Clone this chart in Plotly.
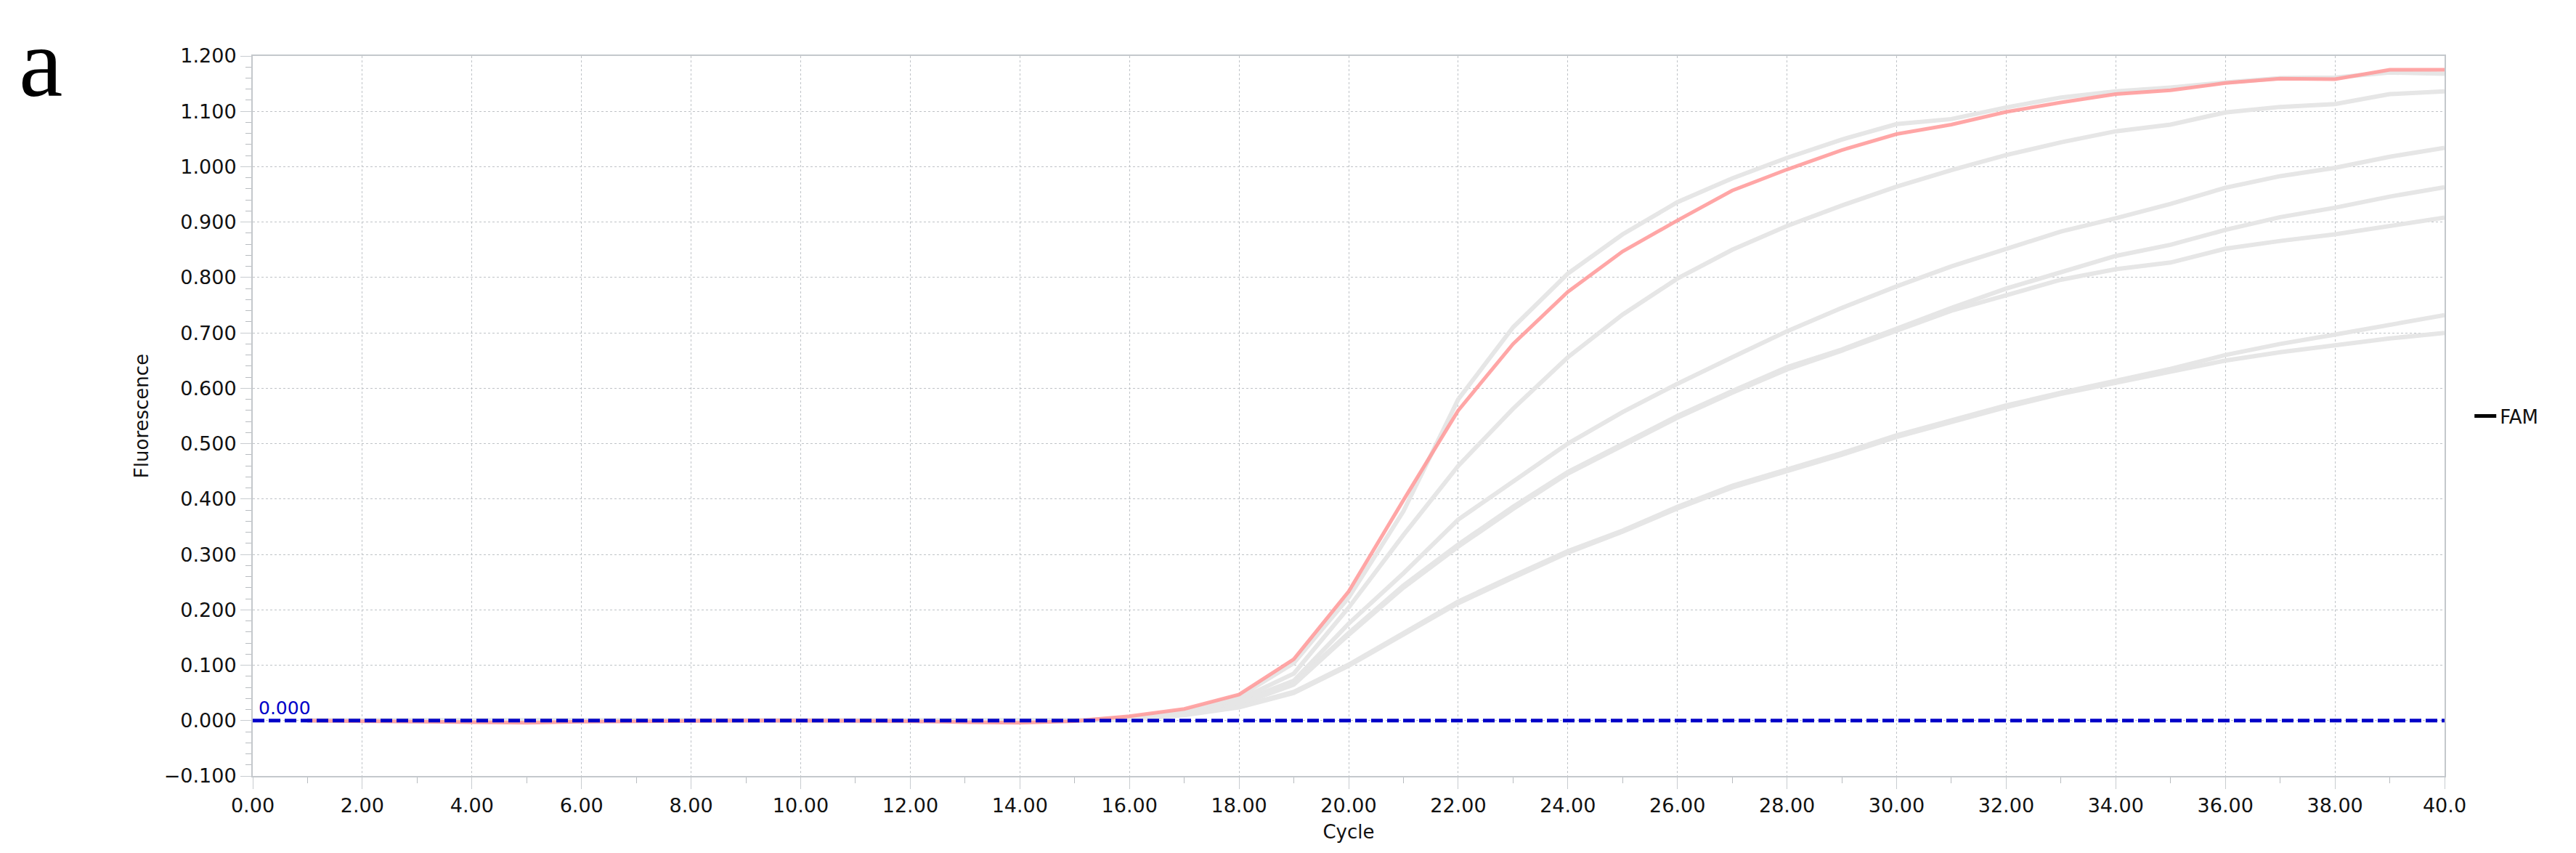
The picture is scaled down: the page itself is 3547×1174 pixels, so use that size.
import plotly.graph_objects as go

# amplification curves, one value per cycle
CYCLES = [1, 2, 3, 4, 5, 6, 7, 8, 9, 10, 11, 12, 13, 14, 15, 16, 17, 18, 19, 20,
          21, 22, 23, 24, 25, 26, 27, 28, 29, 30, 31, 32, 33, 34, 35, 36, 37, 38, 39, 40]

FAM_HIGHLIGHT = [0.000, -0.001, -0.002, -0.004, -0.004, -0.002, -0.001, 0.000, 0.000, 0.000,
                 0.000, -0.001, -0.003, -0.004, -0.001, 0.008, 0.021, 0.047, 0.111, 0.233,
                 0.398, 0.560, 0.680, 0.774, 0.847, 0.903, 0.957, 0.995, 1.030, 1.059,
                 1.076, 1.099, 1.116, 1.131, 1.138, 1.151, 1.159, 1.158, 1.175, 1.175]

FAM_A = [0.000, 0.000, -0.001, -0.002, -0.002, -0.001, 0.000, 0.000, 0.000, 0.000,
         0.000, 0.000, -0.001, -0.002, 0.000, 0.005, 0.017, 0.043, 0.104, 0.222,
         0.378, 0.580, 0.710, 0.807, 0.878, 0.936, 0.979, 1.016, 1.049, 1.077,
         1.086, 1.107, 1.125, 1.136, 1.143, 1.152, 1.160, 1.161, 1.170, 1.168]

FAM_B = [0.000, 0.000, 0.000, -0.001, -0.001, 0.000, 0.000, 0.000, 0.000, 0.000,
         0.000, 0.000, 0.000, -0.001, 0.000, 0.004, 0.015, 0.038, 0.085, 0.204,
         0.335, 0.460, 0.563, 0.656, 0.733, 0.798, 0.850, 0.893, 0.930, 0.964,
         0.994, 1.021, 1.044, 1.064, 1.076, 1.098, 1.108, 1.113, 1.131, 1.136]

FAM_C = [0.000, 0.000, 0.000, -0.001, -0.001, 0.000, 0.000, 0.000, 0.000, 0.000,
         0.000, 0.000, 0.000, -0.001, 0.000, 0.004, 0.014, 0.034, 0.072, 0.175,
         0.266, 0.363, 0.432, 0.500, 0.557, 0.608, 0.656, 0.703, 0.745, 0.784,
         0.820, 0.852, 0.883, 0.907, 0.933, 0.962, 0.983, 0.998, 1.018, 1.034]

FAM_D = [0.000, 0.000, 0.000, 0.000, -0.001, 0.000, 0.000, 0.000, 0.000, 0.000,
         0.000, 0.000, 0.000, 0.000, 0.000, 0.003, 0.013, 0.030, 0.067, 0.158,
         0.244, 0.318, 0.386, 0.449, 0.500, 0.550, 0.595, 0.638, 0.670, 0.708,
         0.745, 0.780, 0.810, 0.839, 0.859, 0.886, 0.909, 0.926, 0.946, 0.963]

FAM_E = [0.000, 0.000, 0.000, 0.000, -0.001, 0.000, 0.000, 0.000, 0.000, 0.000,
         0.000, 0.000, 0.000, 0.000, 0.000, 0.003, 0.012, 0.029, 0.065, 0.155,
         0.240, 0.314, 0.382, 0.446, 0.497, 0.547, 0.592, 0.634, 0.668, 0.705,
         0.740, 0.768, 0.796, 0.815, 0.827, 0.852, 0.866, 0.878, 0.893, 0.908]

FAM_F = [0.000, 0.000, 0.000, 0.000, 0.000, 0.000, 0.000, 0.000, 0.000, 0.000,
         0.000, 0.000, 0.000, 0.000, 0.000, 0.003, 0.011, 0.025, 0.052, 0.101,
         0.158, 0.215, 0.261, 0.306, 0.343, 0.386, 0.424, 0.453, 0.483, 0.515,
         0.543, 0.569, 0.592, 0.613, 0.635, 0.660, 0.680, 0.697, 0.714, 0.732]

FAM_G = [0.000, 0.000, 0.000, 0.000, 0.000, 0.000, 0.000, 0.000, 0.000, 0.000,
         0.000, 0.000, 0.000, 0.000, 0.000, 0.002, 0.010, 0.024, 0.050, 0.099,
         0.155, 0.212, 0.258, 0.303, 0.341, 0.383, 0.421, 0.450, 0.480, 0.512,
         0.540, 0.566, 0.590, 0.610, 0.630, 0.650, 0.665, 0.678, 0.690, 0.700]

GRAY_CURVES = [FAM_A, FAM_B, FAM_C, FAM_D, FAM_E, FAM_F, FAM_G]

THRESHOLD = 0.0
X_RANGE = [0, 40]

X_TICKS = [0, 2, 4, 6, 8, 10, 12, 14, 16, 18, 20, 22, 24, 26, 28, 30, 32, 34, 36, 38, 40]
X_TICKTEXT = ["0.00", "2.00", "4.00", "6.00", "8.00", "10.00", "12.00", "14.00", "16.00",
              "18.00", "20.00", "22.00", "24.00", "26.00", "28.00", "30.00", "32.00",
              "34.00", "36.00", "38.00", "40.0"]

W, H = 3547, 1174
ML, MR, MT, MB = 340, 189, 69, 114
PW, PH = W - ML - MR, H - MT - MB
FONT = "DejaVu Sans"

fig = go.Figure()

for ys in GRAY_CURVES:
    fig.add_trace(go.Scatter(
        x=CYCLES, y=ys, mode="lines",
        line=dict(color="#e6e6e6", width=6),
        showlegend=False, hoverinfo="skip",
    ))

fig.add_trace(go.Scatter(
    x=CYCLES, y=FAM_HIGHLIGHT, mode="lines",
    line=dict(color="rgba(255,150,150,0.85)", width=5),
    showlegend=False,
))

# threshold line
fig.add_trace(go.Scatter(
    x=X_RANGE, y=[THRESHOLD, THRESHOLD], mode="lines",
    line=dict(color="#0000c8", width=5, dash="16px,6px"),
    showlegend=False, hoverinfo="skip",
))

# legend entry
fig.add_trace(go.Scatter(
    x=[None], y=[None], mode="lines", name="FAM",
    line=dict(color="black", width=5),
))

fig.add_annotation(
    x=0, y=THRESHOLD, xref="x", yref="y", text="0.000",
    xanchor="left", yanchor="bottom", xshift=6, yshift=1,
    showarrow=False, font=dict(family=FONT, size=25, color="#0000c8"),
)

# panel letter, kept fully inside the page
fig.add_annotation(
    x=(16 - ML) / PW, y=(H - MB - 1) / PH,
    xref="paper", yref="paper", text="a",
    xanchor="left", yanchor="top", showarrow=False,
    font=dict(family="Liberation Serif", size=136, color="black"),
)

axis_common = dict(
    showline=True, linecolor="#c4c8cc", linewidth=2, mirror=True,
    showgrid=True, gridcolor="#bfc3c7", gridwidth=1, griddash="dot",
    zeroline=False,
    ticks="outside", tickcolor="#c8ccd0", tickwidth=1,
    tickfont=dict(family=FONT, size=27, color="#111111"),
)

fig.update_xaxes(
    **axis_common,
    range=X_RANGE,
    tickvals=X_TICKS, ticktext=X_TICKTEXT, ticklen=16,
    minor=dict(dtick=1, ticks="outside", ticklen=8, tickcolor="#b8bcc0", showgrid=False),
    title=dict(text="Cycle", font=dict(family=FONT, size=26, color="#111111"), standoff=12),
)

fig.update_yaxes(
    **axis_common,
    range=[-0.1, 1.2],
    dtick=0.1, tick0=0, tickformat=".3f", ticklen=15,
    minor=dict(dtick=0.02, ticks="outside", ticklen=8, tickcolor="#b8bcc0", showgrid=False),
    title=dict(text="Fluorescence", font=dict(family=FONT, size=26, color="#111111"), standoff=14),
)

fig.update_layout(
    width=W, height=H,
    margin=dict(l=ML, r=MR, t=MT, b=MB),
    plot_bgcolor="white", paper_bgcolor="white",
    showlegend=True,
    legend=dict(
        x=1.012, y=0.5, xanchor="left", yanchor="middle",
        font=dict(family=FONT, size=26, color="#111111"),
        bgcolor="rgba(0,0,0,0)",
    ),
)

fig.write_html("out.html")
